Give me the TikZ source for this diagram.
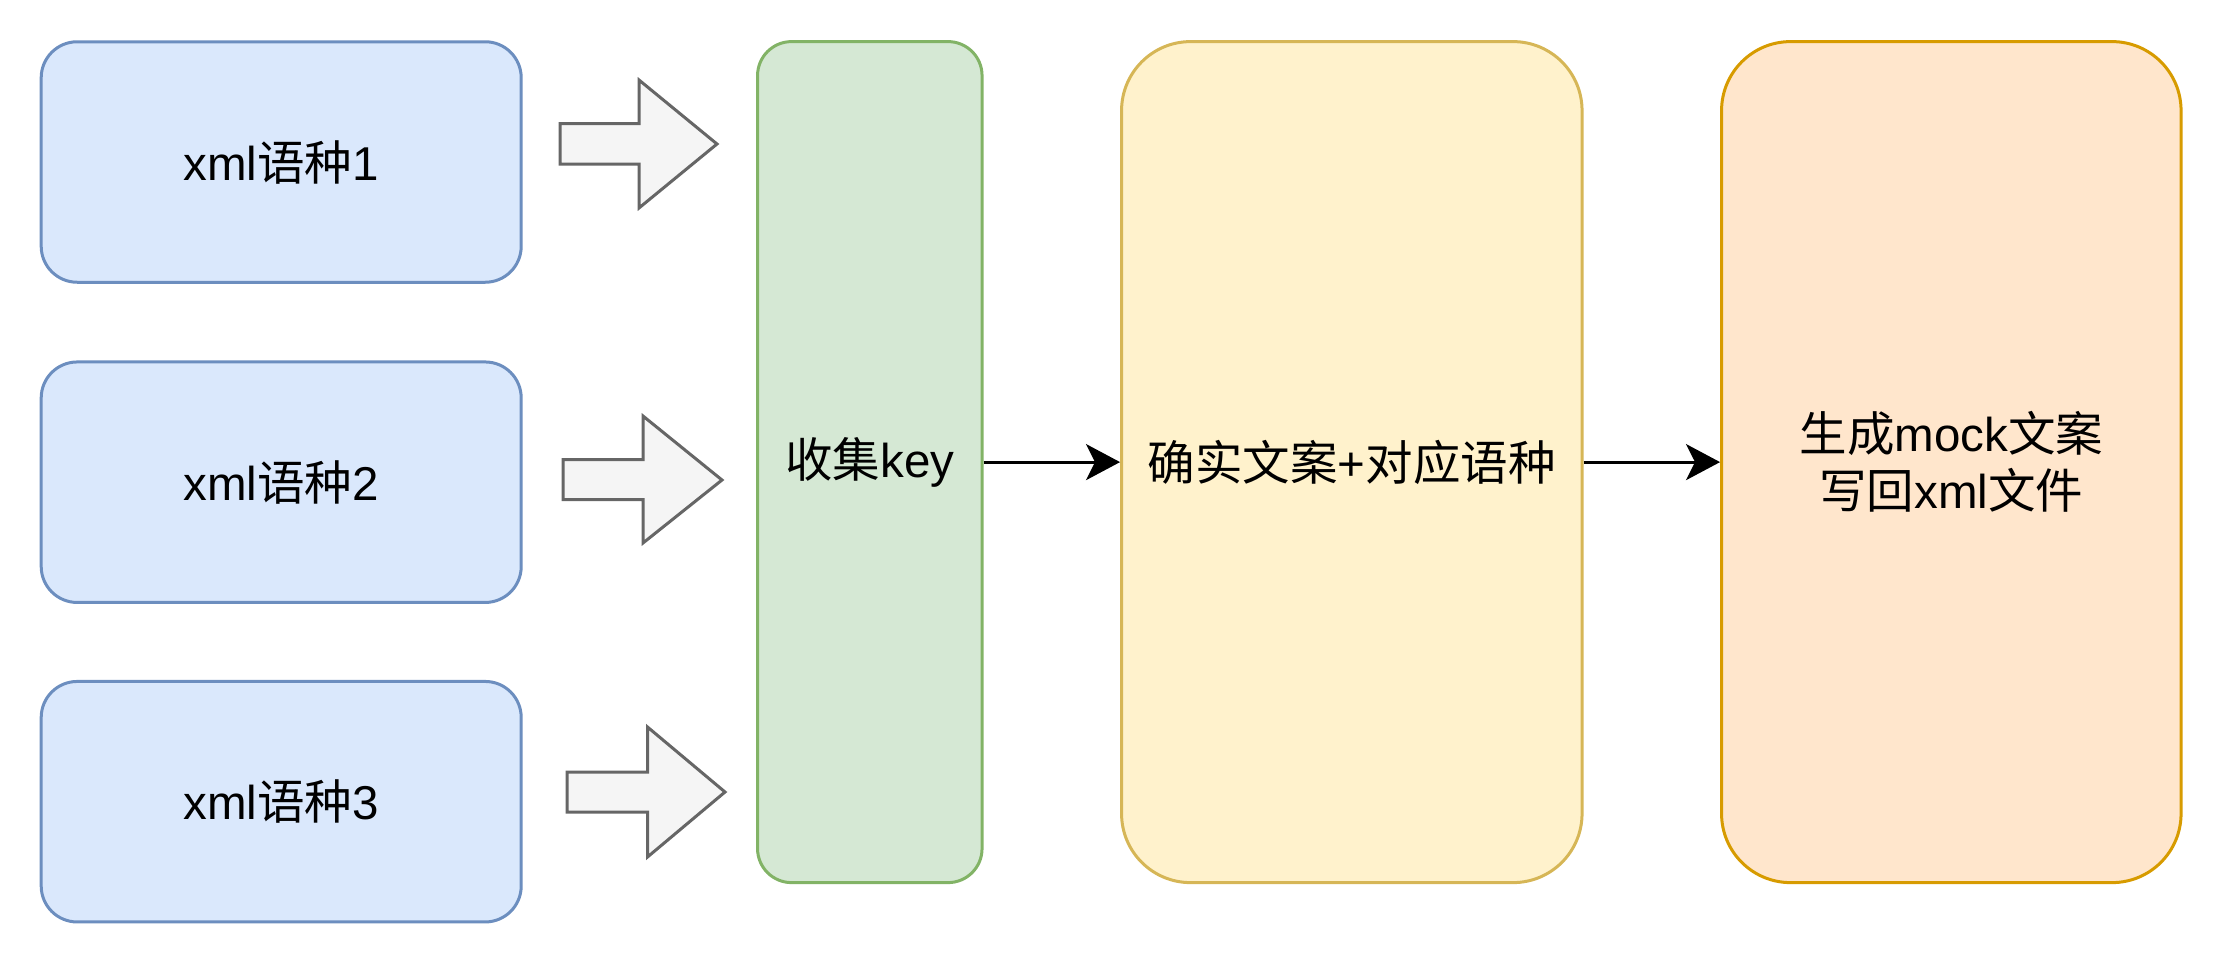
\documentclass[tikz,border=0pt]{standalone}
\usepackage{fontspec}
\setmainfont{Liberation Sans}
\newfontfamily\cjkfont{Noto Sans CJK SC}
\newcommand{\zh}[1]{{\cjkfont #1}}
\usetikzlibrary{arrows.meta}
\definecolor{bluefill}{HTML}{DAE8FC}
\definecolor{bluedraw}{HTML}{6C8EBF}
\definecolor{greenfill}{HTML}{D5E8D4}
\definecolor{greendraw}{HTML}{82B366}
\definecolor{yellowfill}{HTML}{FFF2CC}
\definecolor{yellowdraw}{HTML}{D6B656}
\definecolor{orangefill}{HTML}{FFE6CC}
\definecolor{orangedraw}{HTML}{D79B00}
\definecolor{grayfill}{HTML}{F5F5F5}
\definecolor{graydraw}{HTML}{666666}
\tikzset{
  box/.style={rectangle, line width=3pt, inner sep=0pt, align=center,
    font=\fontsize{47.5}{57}\selectfont},
  srcbox/.style={box, fill=bluefill, draw=bluedraw, rounded corners=36pt,
    minimum width=480pt, minimum height=240.5pt},
  keybox/.style={box, fill=greenfill, draw=greendraw, rounded corners=34pt,
    minimum width=224.5pt, minimum height=841pt},
  transbox/.style={box, fill=yellowfill, draw=yellowdraw, rounded corners=69pt,
    minimum width=460.5pt, minimum height=841pt},
  outbox/.style={box, fill=orangefill, draw=orangedraw, rounded corners=69pt,
    minimum width=459.5pt, minimum height=841pt},
  blockarrow/.style={fill=grayfill, draw=graydraw, line width=3pt, line join=miter},
  conn/.style={line width=3pt, -{Stealth[length=34pt, width=36pt, inset=9pt]}}
}
\begin{document}
\begin{tikzpicture}[x=1pt, y=-1pt]
\useasboundingbox (0,0) rectangle (2224,964);

\node[srcbox] (x1) at (281.2,162) {xml\zh{语种}1};
\node[srcbox] (x2) at (281.2,482.2) {xml\zh{语种}2};
\node[srcbox] (x3) at (281.2,801.7) {xml\zh{语种}3};

\node[keybox] (key) at (869.8,462.1) {\zh{收集}key};
\node[transbox] (trans) at (1351.8,462.1) {\zh{确实文案}+\zh{对应语种}};
\node[outbox] (out) at (1951.3,462.1) {\zh{生成}mock\zh{文案}\\\zh{写回}xml\zh{文件}};

% block arrows
\draw[blockarrow] (560,123.5) -- (639,123.5) -- (639,80) -- (717,144)
  -- (639,208) -- (639,164) -- (560,164) -- cycle;
\draw[blockarrow] (563,459.5) -- (643,459.5) -- (643,416) -- (722,480)
  -- (643,543) -- (643,499.5) -- (563,499.5) -- cycle;
\draw[blockarrow] (567,772) -- (647.5,772) -- (647.5,727) -- (725,792)
  -- (647.5,857) -- (647.5,812) -- (567,812) -- cycle;

% connectors
\draw[conn] (key) -- (trans);
\draw[conn] (trans) -- (out);
\end{tikzpicture}
\end{document}
